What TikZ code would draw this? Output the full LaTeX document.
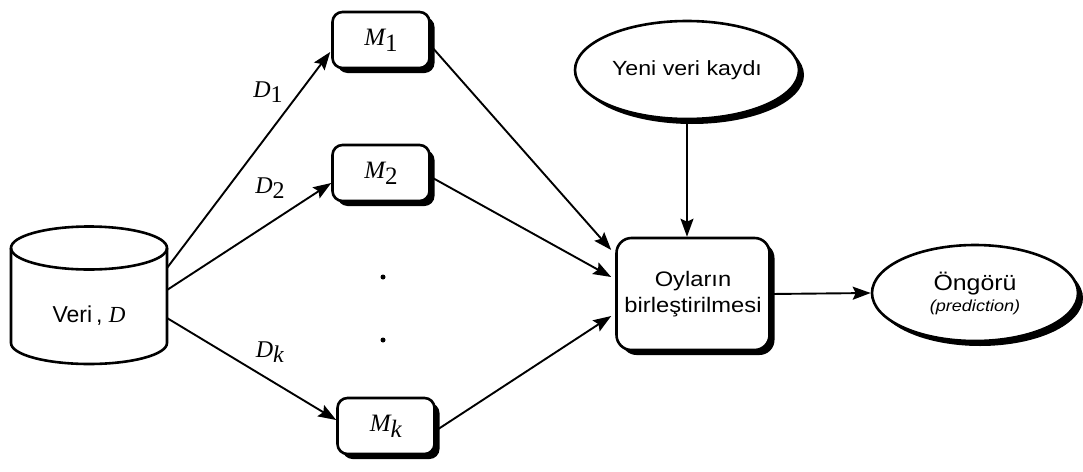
\documentclass[tikz,border=0pt]{standalone}
\usepackage{fontspec}
\setmainfont{Liberation Sans}
\newfontfamily\tms{Liberation Serif}
\newfontfamily\wsans[FakeStretch=1.13]{Liberation Sans}
\usetikzlibrary{arrows.meta,shadows,calc,shapes.geometric}
% italic symbol with a full-size, lowered subscript
\newcommand{\vsym}[2]{{\tms\itshape #1}{\tms\raisebox{-0.5ex}{#2}}}
\begin{document}
\begin{tikzpicture}[x=1pt,y=-1pt,
  line width=2.6pt,
  dropshade/.style={drop shadow={shadow xshift=5pt,shadow yshift=-5pt,fill=black,opacity=1}},
  modelbox/.style={draw,fill=white,rounded corners=10pt,minimum width=97pt,minimum height=56pt,
    font=\fontsize{25}{27}\selectfont,dropshade},
  votebox/.style={draw,fill=white,rounded corners=15pt,minimum width=153pt,minimum height=112pt,
    align=center,font=\wsans\fontsize{21}{26}\selectfont,dropshade},
  oval/.style={draw,fill=white,ellipse,inner sep=0pt,dropshade},
  conn/.style={-{Stealth[length=18pt,width=13pt,inset=3pt]},line width=1.9pt},
  dlabel/.style={font=\fontsize{24}{26}\selectfont}]
\useasboundingbox (0,0) rectangle (1083,471);

% data store drawn as a cylinder
\draw (11,248) -- (11,343) arc[start angle=180,end angle=0,x radius=78,y radius=21] -- (167,248);
\draw (89,248) ellipse[x radius=78,y radius=21.5];
\node[minimum width=156pt,minimum height=100pt] (data) at (89,300) {};
\node[font=\fontsize{23}{25}\selectfont] (datalbl) at (89,316) {Veri\,, {\tms\itshape D}};
\coordinate (s1) at (167,268);
\coordinate (s2) at (167,290);
\coordinate (sk) at (167,318);

% models
\node[modelbox] (M1) at (381,40) {\vsym{M}{1}};
\node[modelbox] (M2) at (381,173) {\vsym{M}{2}};
\node[modelbox] (Mk) at (386,426) {\vsym{M}{\textit{k}}};
\fill (383,277) circle[radius=2.5];
\fill (383,340) circle[radius=2.5];

% voting, new record and prediction
\node[votebox] (vote) at (693,294) {Oyların\\birleştirilmesi};
\node[oval,minimum width=224pt,minimum height=98pt,font=\wsans\fontsize{20.5}{24}\selectfont] (rec) at (687,70) {Yeni veri kaydı};
\node[oval,minimum width=206pt,minimum height=96pt,align=center,font=\wsans\fontsize{22}{21}\selectfont] (pred) at (975,293)
  {Öngörü\\{\fontsize{16}{21}\selectfont\itshape (prediction)}};

% bootstrap samples
\draw[conn] (s1) -- ($(M1.west)+(-1,12)$);
\draw[conn] (s2) -- ($(M2.west)+(0,10)$);
\draw[conn] (sk) -- ($(Mk.west)+(0,-6)$);
\node[dlabel] (d1) at (268,92) {\vsym{D}{1}};
\node[dlabel] (d2) at (270,188) {\vsym{D}{2}};
\node[dlabel] (dk) at (270,352) {\vsym{D}{\textit{k}}};

% votes into the combiner
\draw[conn] ($(M1.east)+(2,8)$) -- ($(vote.west)+(-4,-44)$);
\draw[conn] ($(M2.east)+(2,5)$) -- ($(vote.west)+(-4,-17)$);
\draw[conn] ($(Mk.east)+(1,4)$) -- ($(vote.west)+(-4,22)$);
\draw[conn] (rec.south) -- (rec.south |- vote.north);
\draw[conn] (vote.east) -- (pred.west);
\end{tikzpicture}
\end{document}
